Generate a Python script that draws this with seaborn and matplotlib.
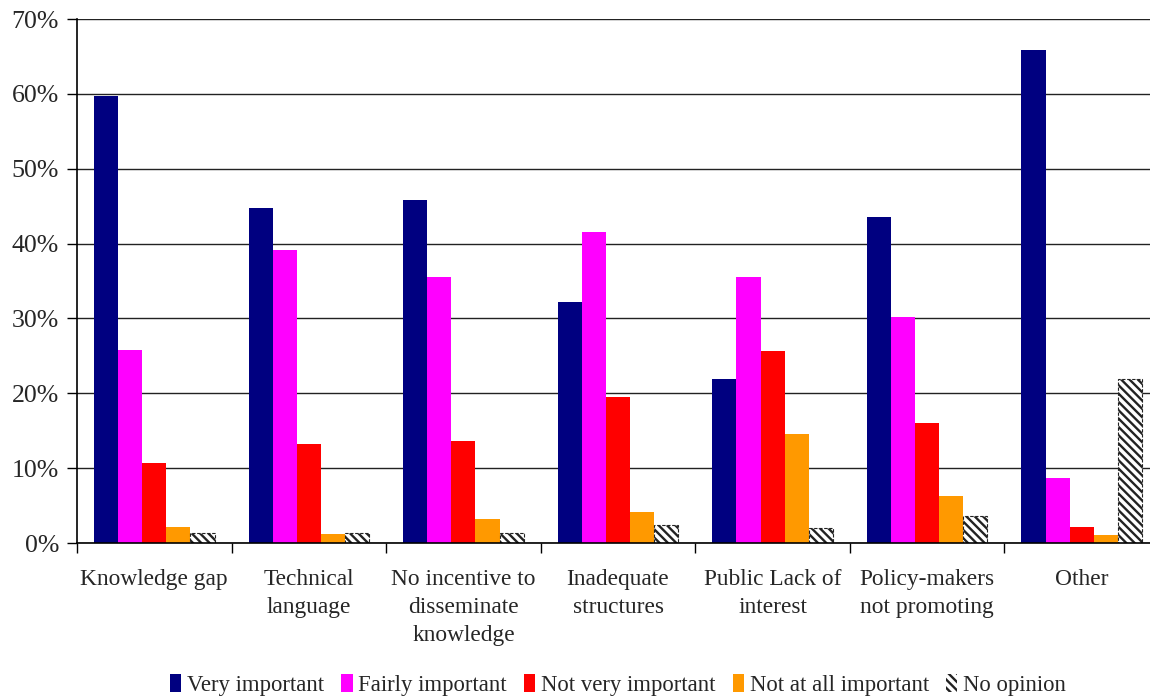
import matplotlib
matplotlib.use("Agg")
import matplotlib.pyplot as plt
import seaborn as sns
import pandas as pd
import numpy as np
from matplotlib.patches import Patch
from matplotlib.ticker import MultipleLocator, FuncFormatter

categories = ["Knowledge gap", "Technical\nlanguage", "No incentive to\ndisseminate\nknowledge",
              "Inadequate\nstructures", "Public Lack of\ninterest", "Policy-makers\nnot promoting", "Other"]
series = ["Very important", "Fairly important", "Not very important", "Not at all important", "No opinion"]
very_important = [59.7, 44.7, 45.8, 32.2, 21.9, 43.6, 65.8]
fairly_important = [25.8, 39.1, 35.6, 41.5, 35.5, 30.2, 8.7]
not_very_important = [10.7, 13.2, 13.6, 19.5, 25.6, 16.0, 2.2]
not_at_all_important = [2.1, 1.2, 3.2, 4.1, 14.6, 6.3, 1.1]
no_opinion = [1.3, 1.3, 1.3, 2.4, 2.0, 3.6, 21.9]
colors = ["#000080", "#FF00FF", "#FF0000", "#FF9900", "#FFFFFF"]

values = [very_important, fairly_important, not_very_important, not_at_all_important, no_opinion]
rows = []
for s, vals in zip(series, values):
    for c, v in zip(categories, vals):
        rows.append({"category": c, "series": s, "value": v})
df = pd.DataFrame(rows)

sns.set_style("white")
plt.rcParams["font.family"] = ["Liberation Serif", "DejaVu Serif"]
plt.rcParams["hatch.linewidth"] = 1.7
plt.rcParams["hatch.color"] = "#222222"

fig = plt.figure(figsize=(11.5, 6.98), dpi=100)
ax = fig.add_axes([77/1150, (698-543)/698, (1159-77)/1150, (543-19)/698])

sns.barplot(data=df, x="category", y="value", hue="series", order=categories, hue_order=series,
            palette=colors, width=0.78, gap=0, saturation=1, legend=False, ax=ax,
            edgecolor="none", linewidth=0)

for bar in ax.containers[4]:
    bar.set_hatch("\\\\\\\\")
    bar.set_edgecolor("#222222")
    bar.set_linewidth(0.8)
    bar.set_linestyle((0, (3, 1.5)))

ax.set_ylim(0, 70)
ax.set_xlim(-0.5, len(categories) - 0.5)
ax.yaxis.set_major_locator(MultipleLocator(10))
ax.yaxis.set_major_formatter(FuncFormatter(lambda v, p: f"{int(round(v))}%"))
ax.grid(axis="y", color="#222222", linewidth=1.0)
ax.set_axisbelow(True)
ax.set_xlabel("")
ax.set_ylabel("")

for sp in ["top", "right"]:
    ax.spines[sp].set_visible(False)
for sp in ["left", "bottom"]:
    ax.spines[sp].set_color("black")
    ax.spines[sp].set_linewidth(1.2)

ax.tick_params(axis="y", which="major", direction="out", length=7, width=1, color="black",
               labelsize=18.6, pad=6, left=True)
ax.tick_params(axis="x", which="major", length=0, pad=19, labelsize=16.8)
ax.set_xticks(np.arange(-0.5, len(categories)), minor=True)
ax.tick_params(axis="x", which="minor", direction="out", length=7, width=1, color="black", bottom=True)
for lbl in ax.get_xticklabels():
    lbl.set_linespacing(1.43)
    lbl.set_ha("center")

handles = []
for s, c in zip(series, colors):
    if s == "No opinion":
        handles.append(Patch(facecolor="white", edgecolor="#222222", hatch="\\\\\\\\", linewidth=0, label=s))
    else:
        handles.append(Patch(facecolor=c, edgecolor="none", label=s))
fig.legend(handles=handles, loc="center", bbox_to_anchor=(618/1150, 1 - 685/698), ncol=5, frameon=False,
           fontsize=16.4, handlelength=0.5, handleheight=0.85, handletextpad=0.25, columnspacing=0.75,
           borderaxespad=0)

fig.savefig("out.png", dpi=100)
